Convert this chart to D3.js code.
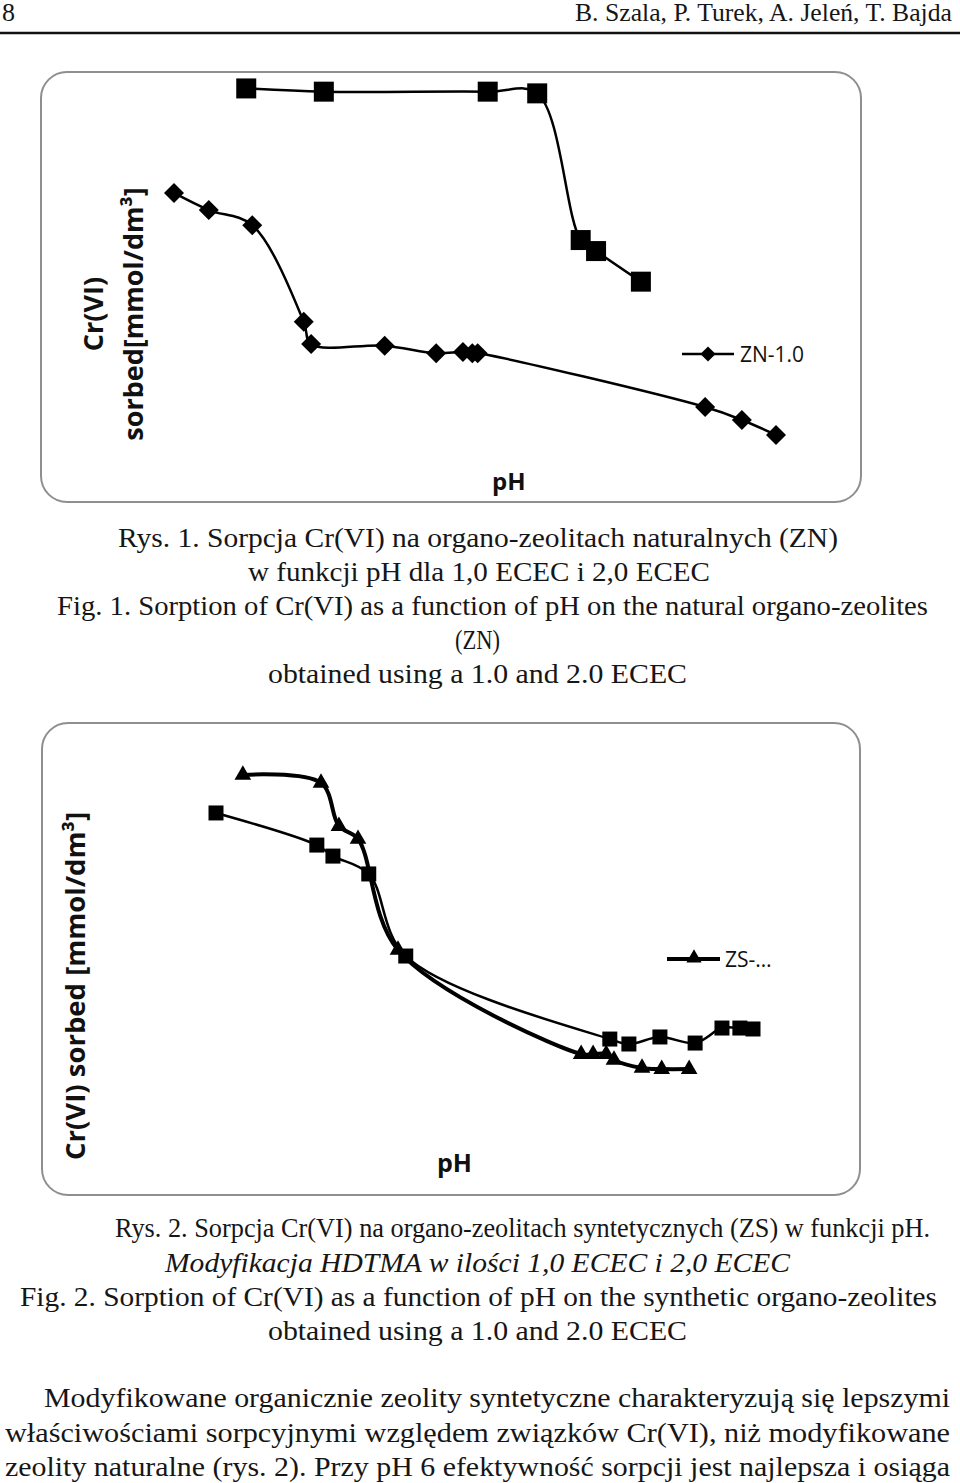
<!DOCTYPE html>
<html>
<head>
<meta charset="utf-8">
<script src="https://cdn.jsdelivr.net/npm/d3@7"></script>
<style>
  body { margin: 0; background: #fff; }
  svg { display: block; }
</style>
</head>
<body>
<svg id="page" width="960" height="1483"></svg>
<script>
// Rys. 1 - natural organo-zeolites (ZN)
const zn10pH = [2.0, 2.52, 3.17, 3.94, 4.05, 5.15, 5.92, 6.32, 6.46, 6.54, 9.94, 10.49, 11.0];
const zn10Sorbed = [0.1353, 0.1263, 0.1183, 0.0675, 0.0558, 0.0549, 0.0509, 0.0516, 0.0509, 0.0509, 0.0226, 0.0158, 0.0079];
const zn20pH = [3.08, 4.24, 6.69, 7.43, 8.08, 8.31, 8.98];
const zn20Sorbed = [0.1903, 0.1886, 0.1886, 0.1877, 0.1105, 0.1047, 0.0886];

// Rys. 2 - synthetic organo-zeolites (ZS)
const zs10pH = [2.45, 3.76, 4.06, 4.38, 5.05, 8.12, 8.32, 8.54, 8.67, 9.14, 9.47, 9.93];
const zs10Sorbed = [0.1816, 0.1774, 0.1547, 0.1479, 0.0895, 0.0347, 0.0347, 0.0347, 0.0316, 0.0274, 0.0268, 0.0268];
const zs20pH = [2.0, 3.69, 3.96, 4.56, 5.18, 8.60, 8.92, 9.44, 10.03, 10.48, 10.78, 11.0];
const zs20Sorbed = [0.1616, 0.1447, 0.1389, 0.1295, 0.0863, 0.0426, 0.0400, 0.0437, 0.0405, 0.0484, 0.0484, 0.0479];

const legend1 = 'ZN-1.0';
const legend2 = 'ZS-…';

// page text
const header = ['8', 'B. Szala, P. Turek, A. Jeleń, T. Bajda'];
const caption1 = [
  'Rys. 1. Sorpcja Cr(VI) na organo-zeolitach naturalnych (ZN)',
  'w funkcji pH dla 1,0 ECEC i 2,0 ECEC',
  'Fig. 1. Sorption of Cr(VI) as a function of pH on the natural organo-zeolites',
  '(ZN)',
  'obtained using a 1.0 and 2.0 ECEC'
];
const caption2 = [
  'Rys. 2. Sorpcja Cr(VI) na organo-zeolitach syntetycznych (ZS) w funkcji pH.',
  'Modyfikacja HDTMA w ilości 1,0 ECEC i 2,0 ECEC',
  'Fig. 2. Sorption of Cr(VI) as a function of pH on the synthetic organo-zeolites',
  'obtained using a 1.0 and 2.0 ECEC'
];
const paragraph = [
  'Modyfikowane organicznie zeolity syntetyczne charakteryzują się lepszymi',
  'właściwościami sorpcyjnymi względem związków Cr(VI), niż modyfikowane',
  'zeolity naturalne (rys. 2). Przy pH 6 efektywność sorpcji jest najlepsza i osiąga'
];

const svg = d3.select('#page');
svg.append('rect').attr('width', 960).attr('height', 1483).attr('fill', '#fff');

const serif = '"Liberation Serif", "Times New Roman", serif';
const sans = '"Open Sans", "Noto Sans", sans-serif';

// text line helper: squeeze each line into the width it has on the page
function textLine(str, x0, x1, y, opts) {
  opts = opts || {};
  return svg.append('text')
    .attr('x', x0)
    .attr('y', y)
    .attr('font-family', serif)
    .attr('font-size', opts.size || 27)
    .attr('font-style', opts.italic ? 'italic' : 'normal')
    .attr('fill', '#161616')
    .attr('textLength', x1 - x0)
    .attr('lengthAdjust', 'spacingAndGlyphs')
    .text(str);
}

// header
textLine(header[0], 2, 15, 21, { size: 25 });
textLine(header[1], 575, 952, 21, { size: 25 });
svg.append('line')
  .attr('x1', 0).attr('x2', 960)
  .attr('y1', 33).attr('y2', 33)
  .attr('stroke', '#111').attr('stroke-width', 2.5);

const curve = d3.curveCatmullRom.alpha(0.5);

function drawSeries(g, xs, ys, x, y, o) {
  const pts = xs.map((d, i) => [d, ys[i]]);
  const line = d3.line()
    .x((d) => x(d[0]))
    .y((d) => y(d[1]))
    .curve(curve);
  g.append('path')
    .attr('d', line(pts))
    .attr('fill', 'none')
    .attr('stroke', '#000')
    .attr('stroke-width', o.lineWidth);
  g.append('g')
    .selectAll('path')
    .data(pts)
    .enter()
    .append('path')
    .attr('d', d3.symbol().type(o.symbol).size(o.size))
    .attr('transform', (d) => `translate(${x(d[0])},${y(d[1])})` + (o.rotate ? ' rotate(45)' : ''))
    .attr('fill', '#000');
}

function chartFrame(box) {
  svg.append('rect')
    .attr('x', box.x).attr('y', box.y)
    .attr('width', box.w).attr('height', box.h)
    .attr('rx', 26).attr('ry', 26)
    .attr('fill', '#fff')
    .attr('stroke', '#8f8f8f')
    .attr('stroke-width', 2);
}

// ---------- Chart 1 ----------
chartFrame({ x: 41, y: 72, w: 820, h: 430 });

const x1 = d3.scaleLinear().domain([2, 11]).range([174, 776]);
const y1 = d3.scaleLinear().domain([0, 0.2]).range([450, 70]);
const g1 = svg.append('g');

drawSeries(g1, zn20pH, zn20Sorbed, x1, y1, { symbol: d3.symbolSquare, size: 400, lineWidth: 2.5 });
drawSeries(g1, zn10pH, zn10Sorbed, x1, y1, { symbol: d3.symbolSquare, size: 200, lineWidth: 2.5, rotate: true });

// y label (two lines)
const yl1 = svg.append('text')
  .attr('transform', 'translate(103,314) rotate(-90)')
  .attr('text-anchor', 'middle')
  .attr('font-family', sans)
  .attr('font-weight', 'bold')
  .attr('font-size', 27)
  .attr('fill', '#111');
yl1.append('tspan').attr('x', 0).attr('y', 0).text('Cr(VI)');
yl1.append('tspan').attr('x', 0).attr('y', 40).text('sorbed[mmol/dm³]');

svg.append('text')
  .attr('x', 492).attr('y', 490)
  .attr('font-family', sans).attr('font-weight', 'bold')
  .attr('font-size', 24).attr('fill', '#111')
  .text('pH');

// legend
const lg1 = svg.append('g');
lg1.append('line')
  .attr('x1', 682).attr('x2', 734).attr('y1', 354).attr('y2', 354)
  .attr('stroke', '#000').attr('stroke-width', 2.5);
lg1.append('path')
  .attr('d', d3.symbol().type(d3.symbolSquare).size(115))
  .attr('transform', 'translate(708,354) rotate(45)')
  .attr('fill', '#000');
lg1.append('text')
  .attr('x', 740).attr('y', 362)
  .attr('font-family', sans).attr('font-size', 21).attr('fill', '#111')
  .text(legend1);

// caption 1
const cap1Pos = [[118, 838, 547], [248, 710, 581], [57, 928, 615], [455, 500, 649], [268, 687, 683]];
caption1.forEach((s, i) => textLine(s, cap1Pos[i][0], cap1Pos[i][1], cap1Pos[i][2]));

// ---------- Chart 2 ----------
chartFrame({ x: 42, y: 723, w: 818, h: 472 });

const x2 = d3.scaleLinear().domain([2, 11]).range([216, 753]);
const y2 = d3.scaleLinear().domain([0, 0.2]).range([1120, 740]);
const g2 = svg.append('g');

drawSeries(g2, zs20pH, zs20Sorbed, x2, y2, { symbol: d3.symbolSquare, size: 225, lineWidth: 2.5 });
drawSeries(g2, zs10pH, zs10Sorbed, x2, y2, { symbol: d3.symbolTriangle, size: 120, lineWidth: 4 });

svg.append('text')
  .attr('transform', 'translate(85,986) rotate(-90)')
  .attr('text-anchor', 'middle')
  .attr('font-family', sans)
  .attr('font-weight', 'bold')
  .attr('font-size', 27.5)
  .attr('fill', '#111')
  .text('Cr(VI) sorbed [mmol/dm³]');

svg.append('text')
  .attr('x', 437).attr('y', 1172)
  .attr('font-family', sans).attr('font-weight', 'bold')
  .attr('font-size', 25).attr('fill', '#111')
  .text('pH');

const lg2 = svg.append('g');
lg2.append('line')
  .attr('x1', 667).attr('x2', 720).attr('y1', 959).attr('y2', 959)
  .attr('stroke', '#000').attr('stroke-width', 4);
lg2.append('path')
  .attr('d', d3.symbol().type(d3.symbolTriangle).size(100))
  .attr('transform', 'translate(694,958)')
  .attr('fill', '#000');
lg2.append('text')
  .attr('x', 725).attr('y', 967)
  .attr('font-family', sans).attr('font-size', 21).attr('fill', '#111')
  .text(legend2);

// caption 2
const cap2Pos = [[115, 930, 1237], [165, 790, 1272], [20, 937, 1306], [268, 687, 1340]];
caption2.forEach((s, i) => textLine(s, cap2Pos[i][0], cap2Pos[i][1], cap2Pos[i][2], { italic: i === 1 }));

// body text
const paraPos = [[44, 950, 1407], [5, 950, 1442], [5, 950, 1476]];
paragraph.forEach((s, i) => textLine(s, paraPos[i][0], paraPos[i][1], paraPos[i][2]));
</script>
</body>
</html>
